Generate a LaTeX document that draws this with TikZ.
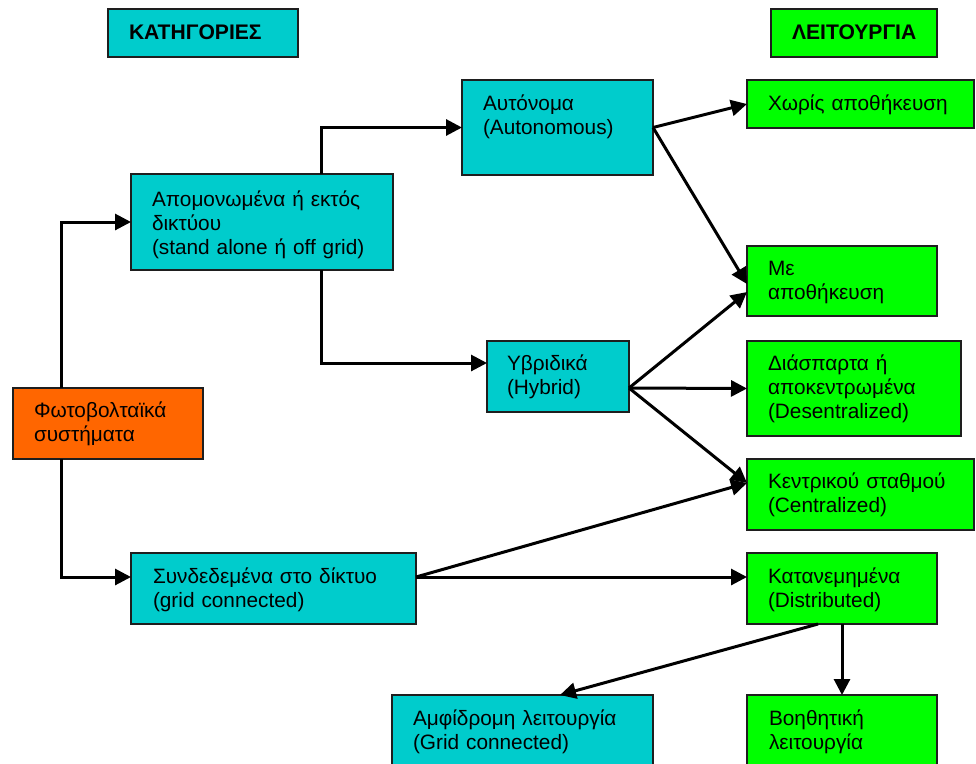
\documentclass[tikz,border=0pt]{standalone}
\usepackage{fontspec}
\setmainfont{Liberation Sans}
\usetikzlibrary{arrows.meta}
\definecolor{cyanc}{RGB}{0,204,204}
\definecolor{greenc}{RGB}{0,255,0}
\definecolor{orangec}{RGB}{255,102,0}
\definecolor{bordc}{RGB}{30,30,30}
\tikzset{
  bx/.style={draw=bordc, line width=1.8pt, inner sep=0pt, outer sep=0pt, anchor=north west},
  cbx/.style={bx, fill=cyanc},
  gbx/.style={bx, fill=greenc},
  obx/.style={bx, fill=orangec},
  txt/.style={anchor=base west, inner sep=0pt, outer sep=0pt, align=left, text width=260pt,
    font=\fontsize{20.8}{24}\selectfont},
  hdr/.style={txt, font=\fontsize{21.1}{24}\selectfont\bfseries},
  arr/.style={line width=3pt, draw=black, -{Triangle[length=16pt,width=16pt]}}
}
\begin{document}
\begin{tikzpicture}[x=1pt,y=-1pt]
\useasboundingbox (0,0) rectangle (976,763);
% boxes
\node[cbx, minimum width=190pt, minimum height=48pt] (cat) at (108,9) {};
\node[gbx, minimum width=166pt, minimum height=48pt] (lei) at (771,9) {};
\node[cbx, minimum width=191pt, minimum height=95pt] (aut) at (462,80) {};
\node[gbx, minimum width=227pt, minimum height=48pt] (xor) at (747,80) {};
\node[cbx, minimum width=262pt, minimum height=96pt] (apo) at (131,174) {};
\node[gbx, minimum width=190pt, minimum height=70pt] (me) at (747,246) {};
\node[cbx, minimum width=142pt, minimum height=71pt] (hyb) at (487,341) {};
\node[gbx, minimum width=214pt, minimum height=95pt] (dia) at (747,341) {};
\node[obx, minimum width=190pt, minimum height=71pt] (ph) at (13,388) {};
\node[gbx, minimum width=227pt, minimum height=71pt] (ken) at (747,459) {};
\node[cbx, minimum width=285pt, minimum height=71pt] (syn) at (131,553) {};
\node[gbx, minimum width=190pt, minimum height=71pt] (kat) at (747,553) {};
\node[cbx, minimum width=261pt, minimum height=85pt] (amf) at (392,695) {};
\node[gbx, minimum width=190pt, minimum height=85pt] (boi) at (747,695) {};
% texts
\node[hdr] (catt) at (129,39) {ΚΑΤΗΓΟΡΙΕΣ};
\node[hdr] (leit) at (792,39) {ΛΕΙΤΟΥΡΓΙΑ};
\node[txt] (autt) at (483,110) {Αυτόνομα\\(Autonomous)};
\node[txt] (xort) at (768,110) {Χωρίς αποθήκευση};
\node[txt] (apot) at (152,206) {Απομονωμένα ή εκτός\\δικτύου\\(stand alone ή off grid)};
\node[txt] (met) at (768,275) {Με\\αποθήκευση};
\node[txt] (hybt) at (507,370) {Υβριδικά\\(Hybrid)};
\node[txt] (diat) at (768,370) {Διάσπαρτα ή\\αποκεντρωμένα\\(Desentralized)};
\node[txt] (pht) at (34,417) {Φωτοβολταϊκά\\συστήματα};
\node[txt] (kent) at (768,488) {Κεντρικού σταθμού\\(Centralized)};
\node[txt] (synt) at (153,583) {Συνδεδεμένα στο δίκτυο\\(grid connected)};
\node[txt] (katt) at (768,583) {Κατανεμημένα\\(Distributed)};
\node[txt] (amft) at (413,725) {Αμφίδρομη λειτουργία\\(Grid connected)};
\node[txt] (boit) at (769,725) {Βοηθητική\\λειτουργία};
% connectors
\draw[arr] ([xshift=48pt]ph.north west) |- (apo.west);
\draw[arr] ([xshift=48pt]ph.south west) |- ([yshift=11.5pt]syn.west);
\draw[arr] ([xshift=190pt]apo.north west) |- (aut.west);
\draw[arr] ([xshift=190pt]apo.south west) |- ([yshift=13.5pt]hyb.west);
\draw[arr] (aut.east) -- (xor.west);
\draw[arr] (aut.east) -- ([yshift=-3pt]me.west);
\draw[arr] ([yshift=-11.5pt]hyb.east) -- ([yshift=-11pt]me.west);
\draw[arr] ([yshift=-11.5pt]hyb.east) -- (dia.west);
\draw[arr] ([yshift=-11.5pt]hyb.east) -- ([yshift=11.5pt]ken.west);
\draw[arr] ([yshift=11.5pt]syn.east) -- ([yshift=11.5pt]ken.west);
\draw[arr] ([yshift=11.5pt]syn.east) -- ([yshift=11.5pt]kat.west);
\draw[arr] ([xshift=71pt]kat.south west) -- ([xshift=168pt]amf.north west);
\draw[arr] ([xshift=95pt]kat.south west) -- ([xshift=95pt]boi.north west);
\end{tikzpicture}
\end{document}
